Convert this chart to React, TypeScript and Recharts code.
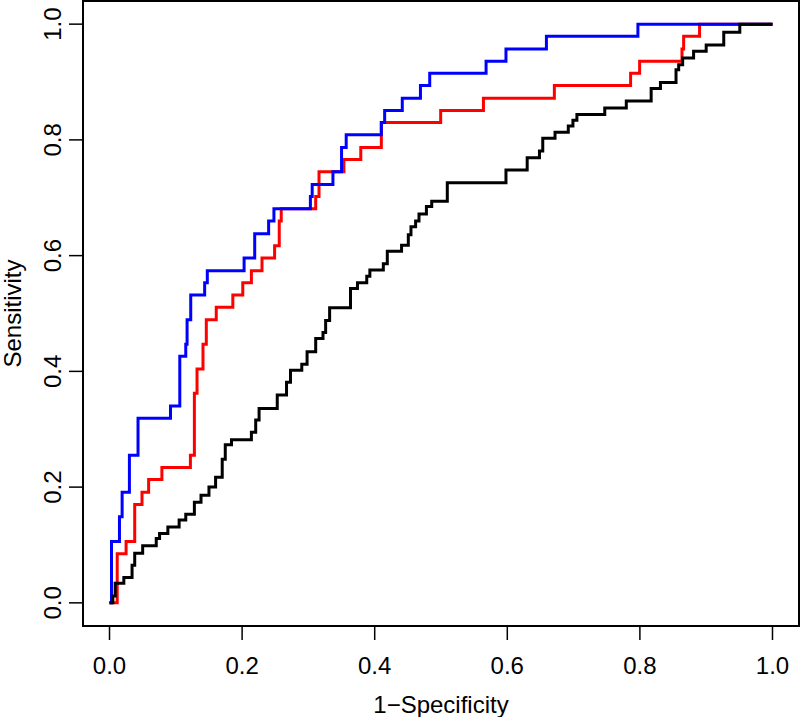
import React from 'react';
import { LineChart, Line, XAxis, YAxis, ReferenceArea } from 'recharts';

// ROC curves: points where each curve rises (false positive rate, sensitivity)
const redFpr = [0, 0.005, 0.0116, 0.025, 0.038, 0.049, 0.059, 0.079, 0.122, 0.128, 0.132, 0.141, 0.146, 0.161, 0.186, 0.201, 0.214, 0.23, 0.249, 0.256, 0.259, 0.311, 0.316, 0.3535, 0.379, 0.41, 0.4995, 0.564, 0.671, 0.786, 0.7996, 0.8635, 0.866, 0.89, 1];
const redTpr = [0, 0, 0.085, 0.106, 0.17, 0.191, 0.213, 0.234, 0.255, 0.362, 0.404, 0.447, 0.489, 0.511, 0.532, 0.553, 0.574, 0.596, 0.617, 0.66, 0.681, 0.702, 0.745, 0.766, 0.787, 0.83, 0.851, 0.872, 0.894, 0.915, 0.936, 0.957, 0.979, 1, 1];

const blueFpr = [0, 0.003, 0.015, 0.019, 0.03, 0.043, 0.092, 0.106, 0.115, 0.117, 0.1225, 0.1435, 0.1475, 0.203, 0.219, 0.24, 0.248, 0.303, 0.3057, 0.337, 0.35, 0.357, 0.41, 0.415, 0.4416, 0.469, 0.483, 0.568, 0.598, 0.659, 0.797, 1];
const blueTpr = [0, 0.106, 0.149, 0.191, 0.255, 0.319, 0.34, 0.426, 0.447, 0.489, 0.532, 0.553, 0.574, 0.596, 0.638, 0.66, 0.681, 0.702, 0.723, 0.745, 0.787, 0.809, 0.83, 0.851, 0.872, 0.894, 0.915, 0.936, 0.957, 0.979, 1, 1];

const blackFpr = [0, 0.005, 0.0086, 0.0216, 0.034, 0.038, 0.05, 0.0705, 0.0755, 0.088, 0.105, 0.115, 0.128, 0.138, 0.15, 0.16, 0.17, 0.1746, 0.184, 0.214, 0.2205, 0.2256, 0.253, 0.267, 0.273, 0.29, 0.298, 0.311, 0.322, 0.326, 0.332, 0.3635, 0.374, 0.388, 0.3927, 0.413, 0.419, 0.4405, 0.4507, 0.4547, 0.4617, 0.4668, 0.478, 0.486, 0.5095, 0.598, 0.63, 0.6485, 0.6535, 0.672, 0.692, 0.699, 0.705, 0.747, 0.7795, 0.817, 0.831, 0.8545, 0.8585, 0.8645, 0.881, 0.9, 0.9265, 0.9507, 1];
const blackTpr = [0, 0.012, 0.034, 0.044, 0.065, 0.0855, 0.0986, 0.111, 0.12, 0.131, 0.143, 0.153, 0.174, 0.186, 0.2, 0.217, 0.248, 0.273, 0.282, 0.295, 0.316, 0.336, 0.359, 0.381, 0.402, 0.4125, 0.434, 0.4566, 0.467, 0.488, 0.51, 0.543, 0.553, 0.5645, 0.575, 0.586, 0.6076, 0.618, 0.636, 0.65, 0.66, 0.672, 0.685, 0.694, 0.726, 0.748, 0.769, 0.781, 0.803, 0.813, 0.824, 0.834, 0.844, 0.855, 0.867, 0.889, 0.899, 0.921, 0.93, 0.9415, 0.953, 0.964, 0.986, 1, 1];

const axisTicks = [0, 0.2, 0.4, 0.6, 0.8, 1];

const FONT = '"Liberation Sans", Arial, Helvetica, sans-serif';
const LO = -0.04;
const HI = 1.04;

const zip = (xs: number[], ys: number[]) => xs.map((x, i) => ({ x, y: ys[i] }));

const redData = zip(redFpr, redTpr);
const blueData = zip(blueFpr, blueTpr);
const blackData = zip(blackFpr, blackTpr);

function YTick(props: any) {
  const { x, y, payload } = props;
  return (
    <text
      x={x}
      y={y}
      transform={`rotate(-90, ${x}, ${y})`}
      textAnchor="middle"
      fontSize={24}
      fontFamily={FONT}
      fill="#000"
    >
      {Number(payload.value).toFixed(1)}
    </text>
  );
}

function XTitle(props: any) {
  const vb = props.viewBox || { x: 83, y: 626, width: 716, height: 91 };
  return (
    <text x={vb.x + vb.width / 2} y={713} textAnchor="middle" fontSize={24} fontFamily={FONT} fill="#000">
      1−Specificity
    </text>
  );
}

function YTitle(props: any) {
  const vb = props.viewBox || { x: 0, y: 1, width: 83, height: 625 };
  const cx = 21;
  const cy = vb.y + vb.height / 2;
  return (
    <text
      x={cx}
      y={cy}
      transform={`rotate(-90, ${cx}, ${cy})`}
      textAnchor="middle"
      fontSize={24}
      fontFamily={FONT}
      fill="#000"
    >
      Sensitivity
    </text>
  );
}

export default function App() {
  return (
    <div style={{ position: 'absolute', left: 0, top: 0, background: '#fff' }}>
      <LineChart width={800} height={717} margin={{ top: 1, right: 1, bottom: 0, left: 0 }}>
        <XAxis
          type="number"
          dataKey="x"
          domain={[LO, HI]}
          ticks={axisTicks}
          tickFormatter={(v: number) => v.toFixed(1)}
          axisLine={false}
          tickSize={14}
          tickMargin={17}
          tickLine={{ stroke: '#000', strokeWidth: 1.5 }}
          tick={{ fill: '#000', fontSize: 24, fontFamily: FONT }}
          height={91}
          label={<XTitle />}
        />
        <YAxis
          type="number"
          dataKey="y"
          domain={[LO, HI]}
          ticks={axisTicks}
          axisLine={false}
          tickSize={14}
          tickMargin={7.5}
          tickLine={{ stroke: '#000', strokeWidth: 1.5 }}
          tick={<YTick />}
          width={83}
          label={<YTitle />}
        />
        <ReferenceArea x1={LO} x2={HI} y1={LO} y2={HI} fill="none" fillOpacity={0} stroke="#000" strokeWidth={2} strokeOpacity={1} />
        <Line data={redData} dataKey="y" type="stepAfter" stroke="#ff0000" strokeWidth={3} dot={false} isAnimationActive={false} />
        <Line data={blueData} dataKey="y" type="stepAfter" stroke="#0000ff" strokeWidth={3} dot={false} isAnimationActive={false} />
        <Line data={blackData} dataKey="y" type="stepAfter" stroke="#000000" strokeWidth={3} dot={false} isAnimationActive={false} />
      </LineChart>
    </div>
  );
}
